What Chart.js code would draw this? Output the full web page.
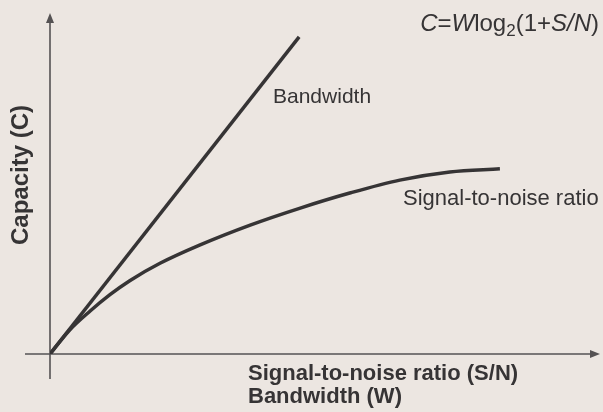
<!DOCTYPE html>
<html>
<head>
<meta charset="utf-8">
<script src="https://cdn.jsdelivr.net/npm/chart.js@4/dist/chart.umd.min.js"></script>
<style>
  html, body { margin: 0; padding: 0; background: #ece6e1; }
  #wrap { width: 603px; height: 412px; position: relative; }
</style>
</head>
<body>
<div id="wrap"><canvas id="c" width="603" height="412"></canvas></div>
<script>
// ---- data (arbitrary units) ----
const bandwidthX = [0, 4.53];
const bandwidthY = [0, 9.30];
const snrX = [0, 0.35, 0.73, 1.09, 1.45, 2.00, 2.73, 3.64, 4.55, 5.45, 6.36, 7.27, 8.18];
const snrY = [0, 0.69, 1.26, 1.74, 2.15, 2.66, 3.20, 3.78, 4.28, 4.72, 5.10, 5.34, 5.43];
const seriesNames = ['Bandwidth', 'Signal-to-noise ratio'];
const xTitleLines = ['Signal-to-noise ratio (S/N)', 'Bandwidth (W)'];
const yTitle = 'Capacity (C)';

const INK = '#363435';
const FONT = '"Liberation Sans", Arial, Helvetica, sans-serif';

const toPts = (xs, ys) => xs.map((x, i) => ({ x: x, y: ys[i] }));

const decor = {
  id: 'decor',
  beforeDatasetsDraw(chart) {
    const ctx = chart.ctx;
    const xs = chart.scales.x, ys = chart.scales.y;
    const x0 = xs.getPixelForValue(0), y0 = ys.getPixelForValue(0);
    const top = chart.chartArea.top, right = chart.chartArea.right;
    ctx.save();
    ctx.strokeStyle = '#555253';
    ctx.fillStyle = '#555253';
    ctx.lineWidth = 1.6;
    // y axis
    ctx.beginPath(); ctx.moveTo(x0, top + 6); ctx.lineTo(x0, y0 + 25); ctx.stroke();
    ctx.beginPath(); ctx.moveTo(x0, top); ctx.lineTo(x0 - 4, top + 10); ctx.lineTo(x0 + 4, top + 10); ctx.closePath(); ctx.fill();
    // x axis
    ctx.beginPath(); ctx.moveTo(x0 - 25, y0); ctx.lineTo(right - 6, y0); ctx.stroke();
    ctx.beginPath(); ctx.moveTo(right, y0); ctx.lineTo(right - 10, y0 - 4); ctx.lineTo(right - 10, y0 + 4); ctx.closePath(); ctx.fill();
    ctx.restore();
  },
  afterDatasetsDraw(chart) {
    const ctx = chart.ctx;
    ctx.save();
    ctx.fillStyle = INK;
    ctx.textBaseline = 'alphabetic';
    // series labels
    ctx.textAlign = 'left';
    ctx.font = '21px ' + FONT;
    ctx.fillText(seriesNames[0], 273, 103);
    ctx.font = '22px ' + FONT;
    ctx.fillText(seriesNames[1], 403, 205);
    // x title
    ctx.font = 'bold 22px ' + FONT;
    ctx.fillText(xTitleLines[0], 248, 380);
    ctx.fillText(xTitleLines[1], 248, 403);
    // y title
    ctx.save();
    ctx.translate(28, 175);
    ctx.rotate(-Math.PI / 2);
    ctx.textAlign = 'center';
    ctx.font = 'bold 24px ' + FONT;
    ctx.fillText(yTitle, 0, 0);
    ctx.restore();
    // formula C=Wlog2(1+S/N)
    const parts = [
      ['C', 'italic 24px ', 0], ['=', '24px ', 0], ['W', 'italic 24px ', 0],
      ['log', '24px ', 0], ['2', '17px ', 5], ['(1+', '24px ', 0],
      ['S', 'italic 24px ', 0], ['/', 'italic 24px ', 0], ['N', 'italic 24px ', 0], [')', '24px ', 0]
    ];
    let w = 0;
    parts.forEach(p => { ctx.font = p[1] + FONT; w += ctx.measureText(p[0]).width; });
    let x = 599 - w;
    parts.forEach(p => { ctx.font = p[1] + FONT; ctx.fillText(p[0], x, 31 + p[2]); x += ctx.measureText(p[0]).width; });
    ctx.restore();
  }
};

new Chart(document.getElementById('c'), {
  type: 'scatter',
  data: {
    datasets: [
      { label: seriesNames[0], data: toPts(bandwidthX, bandwidthY), showLine: true,
        borderColor: INK, borderWidth: 3.5, pointRadius: 0, tension: 0 },
      { label: seriesNames[1], data: toPts(snrX, snrY), showLine: true,
        borderColor: INK, borderWidth: 3.5, pointRadius: 0, cubicInterpolationMode: 'monotone' }
    ]
  },
  options: {
    responsive: false,
    animation: false,
    layout: { padding: { left: 50, right: 3, top: 13, bottom: 58 } },
    plugins: { legend: { display: false }, tooltip: { enabled: false } },
    scales: {
      x: { type: 'linear', min: 0, max: 10, display: false },
      y: { type: 'linear', min: 0, max: 10, display: false }
    }
  },
  plugins: [decor]
});
</script>
</body>
</html>
